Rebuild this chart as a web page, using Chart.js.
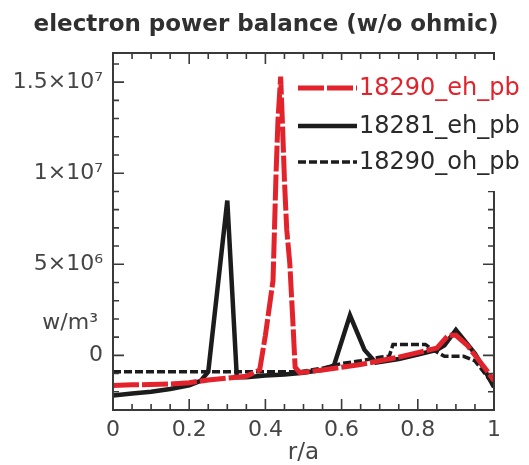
<!DOCTYPE html>
<html>
<head>
<meta charset="utf-8">
<script src="https://cdn.jsdelivr.net/npm/chart.js@4.4.1/dist/chart.umd.min.js"></script>
<style>
  body { margin: 0; background: #fff; }
  #wrap { width: 529px; height: 465px; }
</style>
</head>
<body>
<div id="wrap"><canvas id="powerChart"></canvas></div>
<script>
// values: r/a and power density in units of 1e6 W/m^3
const eh18290R = [0, 0.05, 0.1, 0.15, 0.2, 0.25, 0.3, 0.35, 0.385, 0.4, 0.42, 0.428, 0.433, 0.44, 0.445, 0.45, 0.456, 0.464, 0.472, 0.478, 0.49, 0.55, 0.6, 0.65, 0.7, 0.75, 0.8, 0.85, 0.88, 0.9, 0.93, 0.95, 0.98, 1.0];
const eh18290P = [-1.65, -1.62, -1.6, -1.57, -1.5, -1.35, -1.25, -1.15, -0.8, 1.1, 4.1, 10.0, 12.9, 15.3, 12.6, 9.6, 6.9, 5.05, 1.9, -0.65, -0.95, -0.8, -0.65, -0.5, -0.3, -0.1, 0.15, 0.4, 1.1, 1.1, 0.55, 0.0, -0.8, -1.4];

const eh18281R = [0, 0.05, 0.1, 0.15, 0.2, 0.23, 0.25, 0.3, 0.325, 0.35, 0.4, 0.45, 0.5, 0.55, 0.58, 0.622, 0.66, 0.69, 0.75, 0.8, 0.85, 0.87, 0.9, 0.95, 0.97, 1.0];
const eh18281P = [-2.2, -2.1, -2.0, -1.85, -1.65, -1.4, -0.9, 8.5, -1.2, -1.2, -1.1, -1.05, -0.95, -0.8, -0.55, 2.2, 0.3, -0.4, -0.2, 0.05, 0.3, 0.55, 1.4, 0.1, -0.6, -1.75];

const oh18290R = [0, 0.1, 0.2, 0.3, 0.4, 0.49, 0.55, 0.6, 0.65, 0.7, 0.725, 0.735, 0.82, 0.84, 0.87, 0.92, 0.95, 1.0];
const oh18290P = [-0.9, -0.9, -0.9, -0.9, -0.9, -0.9, -0.7, -0.45, -0.3, -0.1, -0.05, 0.6, 0.6, 0.3, -0.05, -0.05, -0.3, -1.65];

const seriesLabels = ["18290_eh_pb", "18281_eh_pb", "18290_oh_pb"];

const xTicks = [0, 0.2, 0.4, 0.6, 0.8, 1];
const xTickLabels = ["0", "0.2", "0.4", "0.6", "0.8", "1"];
const yTicks = [0, 5e6, 1e7, 1.5e7];
const yTickLabels = ["0", "5×10\u2076", "1×10\u2077", "1.5×10\u2077"];

const SCALE = 1e6;
const toPoints = (rs, ps) => rs.map((r, i) => ({ x: r, y: ps[i] * SCALE }));

const RED = "#e3232b";
const BLACK = "#1c1c1c";
const FONT = "'DejaVu Sans', sans-serif";
const TITLE = "electron power balance (w/o ohmic)";

// box, inward ticks on all four sides, title and y unit label
const frameTicks = {
  id: "frameTicks",
  afterDatasetsDraw(chart) {
    const { ctx, chartArea: a, scales: { x, y } } = chart;
    ctx.save();
    ctx.strokeStyle = "#3a3a3a";
    ctx.lineWidth = 2;
    ctx.strokeRect(a.left, a.top, a.right - a.left, a.bottom - a.top);
    ctx.lineWidth = 1.6;
    ctx.beginPath();
    for (let k = 0; k <= 20; k++) {
      const px = x.getPixelForValue(k * 0.05);
      const len = k % 4 === 0 ? 11 : 6;
      ctx.moveTo(px, a.bottom); ctx.lineTo(px, a.bottom - len);
      ctx.moveTo(px, a.top); ctx.lineTo(px, a.top + len);
    }
    for (let k = -3; k <= 16; k++) {
      const py = y.getPixelForValue(k * 1e6);
      const len = k % 5 === 0 ? 11 : 6;
      ctx.moveTo(a.left, py); ctx.lineTo(a.left + len, py);
      ctx.moveTo(a.right, py); ctx.lineTo(a.right - len, py);
    }
    ctx.stroke();

    ctx.fillStyle = "#303030";
    ctx.font = "bold 23px " + FONT;
    ctx.textAlign = "center";
    ctx.textBaseline = "middle";
    ctx.fillText(TITLE, 266, 25);

    ctx.fillStyle = "#454545";
    ctx.font = "22px " + FONT;
    ctx.textAlign = "right";
    ctx.fillText("w/m\u00b3", 98, 323);
    ctx.restore();
  }
};

// legend drawn on a white patch that hides the upper right frame
const boxLegend = {
  id: "boxLegend",
  afterDraw(chart) {
    const { ctx } = chart;
    ctx.save();
    ctx.fillStyle = "#fff";
    ctx.fillRect(292, 60, 237, 131);
    const rowsY = [88, 126, 162];
    chart.data.datasets.forEach((ds, i) => {
      const yy = rowsY[i];
      ctx.strokeStyle = ds.borderColor;
      ctx.lineWidth = ds.borderWidth;
      ctx.setLineDash(ds.borderDash || []);
      ctx.beginPath();
      ctx.moveTo(298, yy);
      ctx.lineTo(357, yy);
      ctx.stroke();
      ctx.setLineDash([]);
      ctx.fillStyle = i === 0 ? RED : "#2a2a2a";
      ctx.font = "24px " + FONT;
      ctx.textAlign = "left";
      ctx.textBaseline = "middle";
      ctx.fillText(ds.label, 359, yy + 1);
    });
    ctx.restore();
  }
};

new Chart(document.getElementById("powerChart"), {
  type: "line",
  data: {
    datasets: [
      {
        label: seriesLabels[0],
        data: toPoints(eh18290R, eh18290P),
        borderColor: RED,
        borderWidth: 5,
        borderDash: [26, 3]
      },
      {
        label: seriesLabels[1],
        data: toPoints(eh18281R, eh18281P),
        borderColor: BLACK,
        borderWidth: 4.5
      },
      {
        label: seriesLabels[2],
        data: toPoints(oh18290R, oh18290P),
        borderColor: BLACK,
        borderWidth: 3.5,
        borderDash: [8, 3]
      }
    ]
  },
  options: {
    responsive: true,
    maintainAspectRatio: false,
    animation: false,
    layout: { padding: { left: 0, right: 35, top: 53, bottom: 0 } },
    elements: { point: { radius: 0 }, line: { tension: 0, borderJoinStyle: "miter" } },
    plugins: {
      legend: { display: false },
      tooltip: { enabled: false },
      title: { display: false }
    },
    scales: {
      x: {
        type: "linear",
        min: 0,
        max: 1,
        grid: { display: false, drawTicks: false },
        border: { display: false },
        afterBuildTicks: (s) => { s.ticks = xTicks.map((v) => ({ value: v })); },
        afterFit: (s) => { s.height = 55; },
        ticks: {
          padding: 7,
          color: "#454545",
          font: { family: FONT, size: 22 },
          maxRotation: 0,
          callback: (v, i) => xTickLabels[i]
        },
        title: {
          display: true,
          text: "r/a",
          color: "#454545",
          font: { family: FONT, size: 23, lineHeight: 1.0 },
          padding: { top: 0, bottom: 0 }
        }
      },
      y: {
        type: "linear",
        min: -3e6,
        max: 1.66e7,
        grid: { display: false, drawTicks: false },
        border: { display: false },
        afterBuildTicks: (s) => { s.ticks = yTicks.map((v) => ({ value: v })); },
        afterFit: (s) => { s.width = 113; },
        ticks: {
          padding: 10,
          color: "#454545",
          font: { family: FONT, size: 22 },
          callback: (v, i) => yTickLabels[i]
        }
      }
    }
  },
  plugins: [frameTicks, boxLegend]
});
</script>
</body>
</html>
